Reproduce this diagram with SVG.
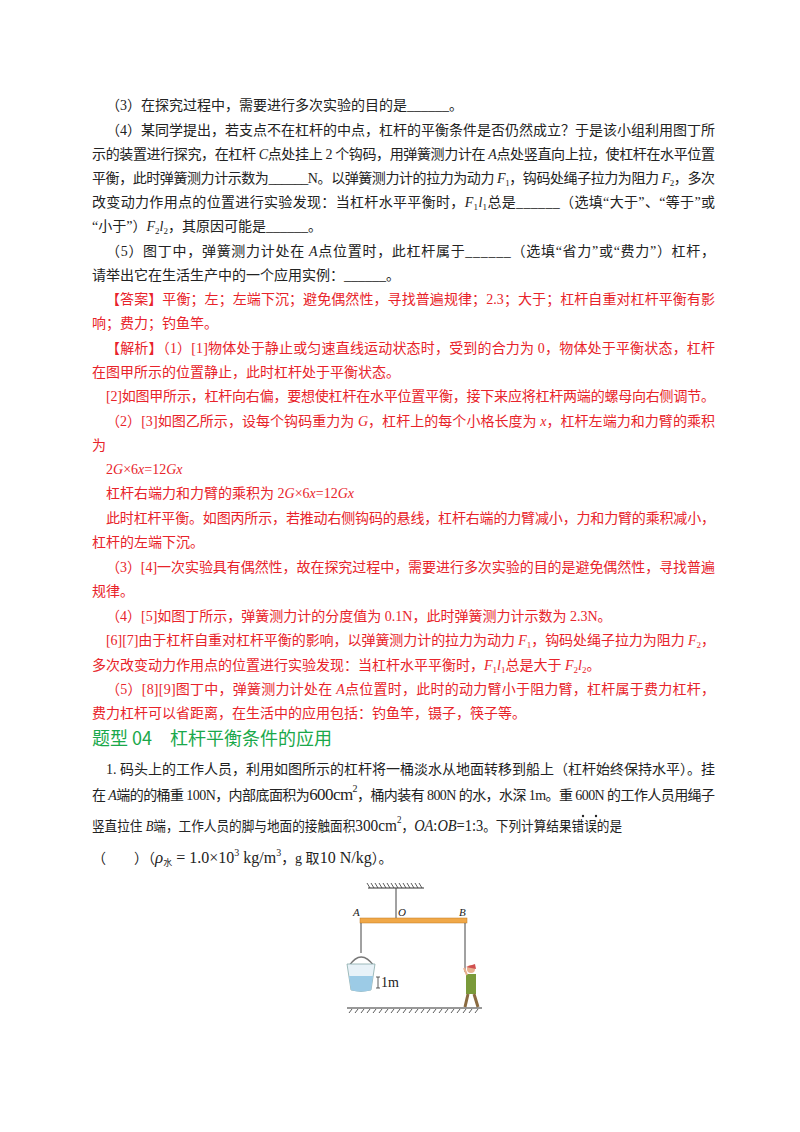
<svg xmlns="http://www.w3.org/2000/svg" width="800" height="1132" viewBox="0 0 800 1132">
<style>
text{font-family:"Liberation Serif","Noto Sans CJK SC",serif;font-size:14px;fill:#222}
.r{fill:#e8232a}
.i{font-style:italic}
.h{font-family:"Noto Sans CJK SC","Liberation Sans",sans-serif;font-size:18px;fill:#1aa84a}
.s{font-size:9px}
.lbl{font-size:11px;font-style:italic}
</style>
<rect width="800" height="1132" fill="#fff"/>
<g id="question">
<text x="106" y="110">（3）在探究过程中，需要进行多次实验的目的是______。</text>
<text x="106" y="135" textLength="609" lengthAdjust="spacing">（4）某同学提出，若支点不在杠杆的中点，杠杆的平衡条件是否仍然成立？于是该小组利用图丁所</text>
<text x="92" y="159" textLength="623" lengthAdjust="spacing">示的装置进行探究，在杠杆 <tspan class="i">C</tspan>点处挂上 2 个钩码，用弹簧测力计在 <tspan class="i">A</tspan>点处竖直向上拉，使杠杆在水平位置</text>
<text x="92" y="183" textLength="623" lengthAdjust="spacing">平衡，此时弹簧测力计示数为______N。以弹簧测力计的拉力为动力 <tspan class="i">F</tspan><tspan class="s" dy="3">1</tspan><tspan dy="-3">，钩码处绳子拉力为阻力 </tspan><tspan class="i">F</tspan><tspan class="s" dy="3">2</tspan><tspan dy="-3">，多次</tspan></text>
<text x="92" y="207" textLength="623" lengthAdjust="spacing">改变动力作用点的位置进行实验发现：当杠杆水平平衡时，<tspan class="i">F</tspan><tspan class="s" dy="3">1</tspan><tspan class="i" dy="-3">l</tspan><tspan class="s" dy="3">1</tspan><tspan dy="-3">总是______（选填“大于”、“等于”或</tspan></text>
<text x="92" y="231">“小于”）<tspan class="i">F</tspan><tspan class="s" dy="3">2</tspan><tspan class="i" dy="-3">l</tspan><tspan class="s" dy="3">2</tspan><tspan dy="-3">，其原因可能是______。</tspan></text>
<text x="106" y="256" textLength="609" lengthAdjust="spacing">（5）图丁中，弹簧测力计处在 <tspan class="i">A</tspan>点位置时，此杠杆属于______（选填“省力”或“费力”）杠杆，</text>
<text x="92" y="280">请举出它在生活生产中的一个应用实例：______。</text>
</g>
<g id="answer">
<text class="r" x="106" y="304" textLength="609" lengthAdjust="spacing">【答案】平衡；左；左端下沉；避免偶然性，寻找普遍规律；2.3；大于；杠杆自重对杠杆平衡有影</text>
<text class="r" x="92" y="328">响；费力；钓鱼竿。</text>
<text class="r" x="106" y="353" textLength="609" lengthAdjust="spacing">【解析】（1）[1]物体处于静止或匀速直线运动状态时，受到的合力为 0，物体处于平衡状态，杠杆</text>
<text class="r" x="92" y="377">在图甲所示的位置静止，此时杠杆处于平衡状态。</text>
<text class="r" x="106" y="401" textLength="609" lengthAdjust="spacing">[2]如图甲所示，杠杆向右偏，要想使杠杆在水平位置平衡，接下来应将杠杆两端的螺母向右侧调节。</text>
<text class="r" x="106" y="426" textLength="609" lengthAdjust="spacing">（2）[3]如图乙所示，设每个钩码重力为 <tspan class="i">G</tspan>，杠杆上的每个小格长度为 <tspan class="i">x</tspan>，杠杆左端力和力臂的乘积</text>
<text class="r" x="92" y="450">为</text>
<text class="r" x="106" y="474">2<tspan class="i">G</tspan>×6<tspan class="i">x</tspan>=12<tspan class="i">Gx</tspan></text>
<text class="r" x="106" y="498">杠杆右端力和力臂的乘积为 2<tspan class="i">G</tspan>×6<tspan class="i">x</tspan>=12<tspan class="i">Gx</tspan></text>
<text class="r" x="106" y="523" textLength="609" lengthAdjust="spacing">此时杠杆平衡。如图丙所示，若推动右侧钩码的悬线，杠杆右端的力臂减小，力和力臂的乘积减小，</text>
<text class="r" x="92" y="547">杠杆的左端下沉。</text>
<text class="r" x="106" y="572" textLength="609" lengthAdjust="spacing">（3）[4]一次实验具有偶然性，故在探究过程中，需要进行多次实验的目的是避免偶然性，寻找普遍</text>
<text class="r" x="92" y="596">规律。</text>
<text class="r" x="106" y="621">（4）[5]如图丁所示，弹簧测力计的分度值为 0.1N，此时弹簧测力计示数为 2.3N。</text>
<text class="r" x="106" y="645" textLength="609" lengthAdjust="spacing">[6][7]由于杠杆自重对杠杆平衡的影响，以弹簧测力计的拉力为动力 <tspan class="i">F</tspan><tspan class="s" dy="3">1</tspan><tspan dy="-3">，钩码处绳子拉力为阻力 </tspan><tspan class="i">F</tspan><tspan class="s" dy="3">2</tspan><tspan dy="-3">，</tspan></text>
<text class="r" x="92" y="670">多次改变动力作用点的位置进行实验发现：当杠杆水平平衡时，<tspan class="i">F</tspan><tspan class="s" dy="3">1</tspan><tspan class="i" dy="-3">l</tspan><tspan class="s" dy="3">1</tspan><tspan dy="-3">总是大于 </tspan><tspan class="i">F</tspan><tspan class="s" dy="3">2</tspan><tspan class="i" dy="-3">l</tspan><tspan class="s" dy="3">2</tspan><tspan dy="-3">。</tspan></text>
<text class="r" x="106" y="694" textLength="609" lengthAdjust="spacing">（5）[8][9]图丁中，弹簧测力计处在 <tspan class="i">A</tspan>点位置时，此时的动力臂小于阻力臂，杠杆属于费力杠杆，</text>
<text class="r" x="92" y="718">费力杠杆可以省距离，在生活中的应用包括：钓鱼竿，镊子，筷子等。</text>
</g>
<g id="section">
<text class="h" x="92" y="745">题型 04　杠杆平衡条件的应用</text>
<text x="106" y="774" textLength="609" lengthAdjust="spacing">1. 码头上的工作人员，利用如图所示的杠杆将一桶淡水从地面转移到船上（杠杆始终保持水平）。挂</text>
<text x="92" y="800" textLength="623" lengthAdjust="spacing">在 <tspan class="i">A</tspan>端的的桶重 100N，内部底面积为<tspan font-size="17">600cm</tspan><tspan font-size="10" dy="-8">2</tspan><tspan dy="8">，桶内装有 800N 的水，水深 1m。重 600N 的工作人员用绳子</tspan></text>
<text x="92" y="831" textLength="530" lengthAdjust="spacingAndGlyphs">竖直拉住 <tspan class="i">B</tspan>端，工作人员的脚与地面的接触面积<tspan font-size="17">300cm</tspan><tspan font-size="10" dy="-8">2</tspan><tspan dy="8">，</tspan><tspan class="i" font-size="16">OA</tspan><tspan font-size="16">:</tspan><tspan class="i" font-size="16">OB</tspan><tspan font-size="16">=1:3</tspan>。下列计算结果错误的是</text>
<circle cx="583" cy="816" r="1.2" fill="#222"/><circle cx="596" cy="816" r="1.2" fill="#222"/>
<text x="92" y="863">（　　）（<tspan class="i" font-size="17">ρ</tspan><tspan class="s" dy="3">水</tspan><tspan font-size="16" dy="-3"> = 1.0×10</tspan><tspan font-size="10" dy="-7">3</tspan><tspan font-size="16" dy="7"> kg/m</tspan><tspan font-size="10" dy="-7">3</tspan><tspan dy="7">，g 取</tspan><tspan font-size="16">10 N/kg</tspan>）。</text>
</g>
<g id="figure">
<line x1="368" y1="888" x2="424" y2="888" stroke="#333" stroke-width="1"/>
<path d="M370 888l-3 -5M374 888l-3 -5M378 888l-3 -5M382 888l-3 -5M386 888l-3 -5M390 888l-3 -5M394 888l-3 -5M398 888l-3 -5M402 888l-3 -5M406 888l-3 -5M410 888l-3 -5M414 888l-3 -5M418 888l-3 -5M422 888l-3 -5" stroke="#333" stroke-width="0.8"/>
<line x1="396" y1="888" x2="396" y2="918" stroke="#444"/>
<rect x="360" y="918" width="107" height="5" fill="#f0a848" stroke="#c07820" stroke-width="0.5"/>
<text class="lbl" x="353" y="916">A</text>
<text class="lbl" x="398" y="916">O</text>
<text class="lbl" x="459" y="916">B</text>
<line x1="361" y1="923" x2="361" y2="953" stroke="#444"/>
<line x1="465" y1="923" x2="465" y2="972" stroke="#444"/>
<path d="M349 966 Q361 948 374 966" fill="none" stroke="#777" stroke-width="1.5"/>
<path d="M347 964 L375 964 L371 990 Q361 993 351 990 Z" fill="#e8f2f8" stroke="#8aa" stroke-width="0.8"/>
<path d="M349 976 L373 976 L371 990 Q361 993 351 990 Z" fill="#9ccbe6"/>
<path d="M376 977 L380 977 M378 977 L378 988 M376 988 L380 988" stroke="#333" fill="none" stroke-width="0.8"/>
<text x="381" y="987" font-size="11">1m</text>
<circle cx="471" cy="969" r="4" fill="#e8b090"/>
<path d="M466 967 L475 964 L476 969 Z" fill="#d05050"/>
<path d="M466 974 L476 974 L476 994 L466 994 Z" fill="#7a9a3a"/>
<path d="M467 975 L464 968" stroke="#e8b090" stroke-width="2"/>
<path d="M468 994 L465 1007 M474 994 L478 1007" stroke="#8a6a40" stroke-width="3"/>
<line x1="347" y1="1008" x2="482" y2="1008" stroke="#333"/>
<path d="M352 1009l-3 4M358 1009l-3 4M364 1009l-3 4M370 1009l-3 4M376 1009l-3 4M382 1009l-3 4M388 1009l-3 4M394 1009l-3 4M400 1009l-3 4M406 1009l-3 4M412 1009l-3 4M418 1009l-3 4M424 1009l-3 4M430 1009l-3 4M436 1009l-3 4M442 1009l-3 4M448 1009l-3 4M454 1009l-3 4M460 1009l-3 4M466 1009l-3 4M472 1009l-3 4M478 1009l-3 4" stroke="#333" stroke-width="0.8"/>
</g>
</svg>
